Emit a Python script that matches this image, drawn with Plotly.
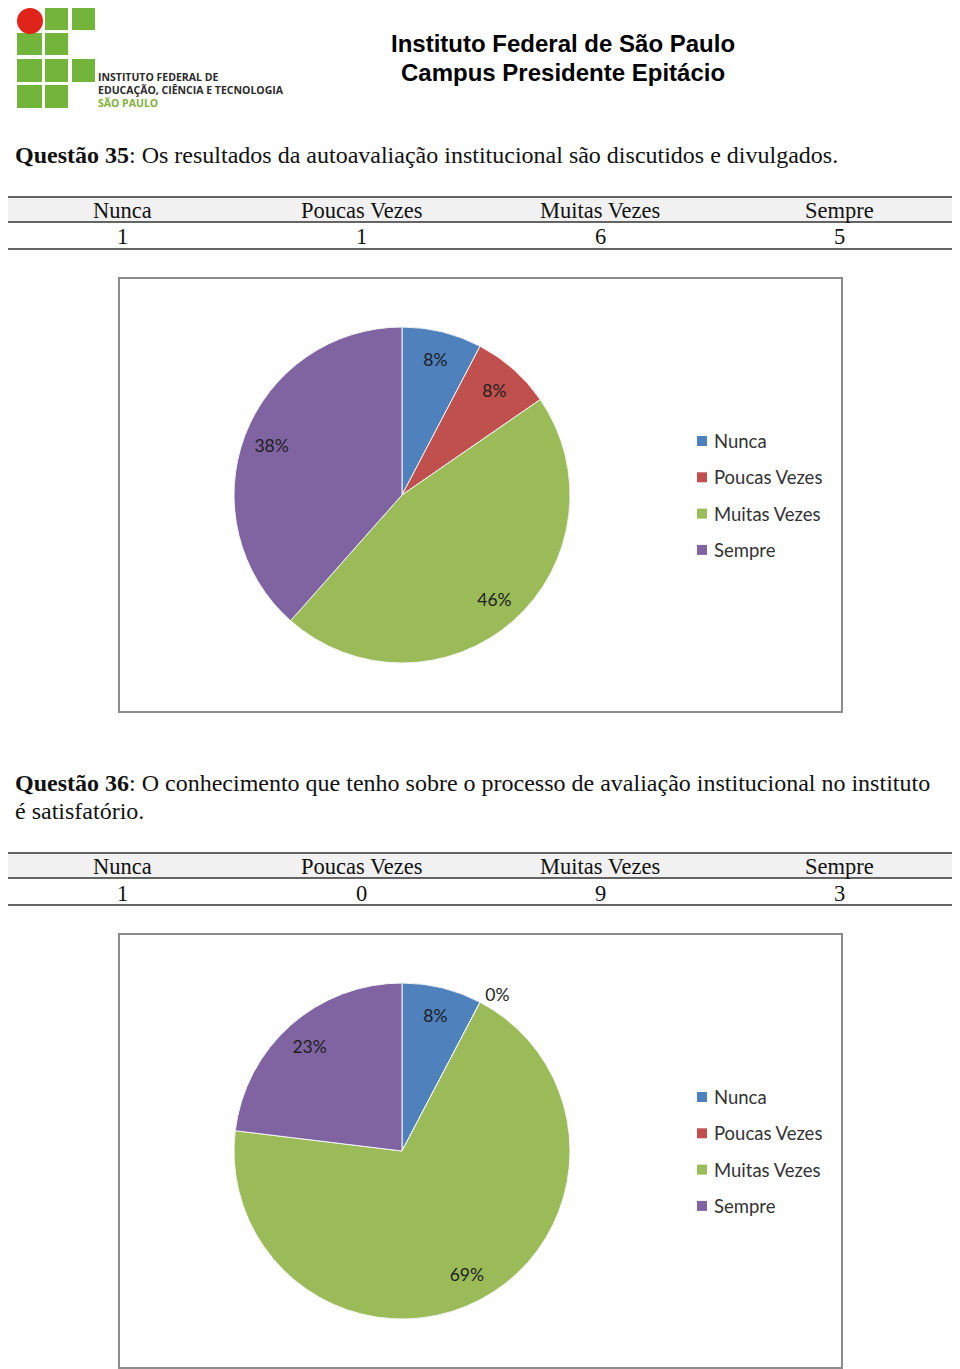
import plotly.graph_objects as go

# page body has an 8px margin, so the figure is drawn 8px smaller and
# reference pixel coordinates are shifted by that margin
OFF = 8
W, H = 960 - OFF, 1369 - OFF

# --- data ---
categories = ["Nunca", "Poucas Vezes", "Muitas Vezes", "Sempre"]
q35_counts = [1, 1, 6, 5]
q36_counts = [1, 0, 9, 3]
q35_title = "Questão 35"
q35_lines = ["Os resultados da autoavaliação institucional são discutidos e divulgados."]
q36_title = "Questão 36"
q36_lines = ["O conhecimento que tenho sobre o processo de avaliação institucional no instituto",
             "é satisfatório."]
header_lines = ["Instituto Federal de São Paulo", "Campus Presidente Epitácio"]
slice_colors = ["#4F81BD", "#C0504D", "#9BBB59", "#8064A2"]

SERIF = "Liberation Serif, Times New Roman, serif"
SANS = "Liberation Sans, Arial, sans-serif"
CHART_FONT = "Lato, Calibri, sans-serif"


def X(px):
    return (px - OFF) / W


def Y(py):
    return 1 - (py - OFF) / H


fig = go.Figure()
shapes = []
annotations = []


def text_at(text, x, y, size, family, color="#111", xanchor="center"):
    annotations.append(dict(text=text, x=X(x), y=Y(y), xref="paper", yref="paper",
                            xanchor=xanchor, yanchor="middle", showarrow=False,
                            font=dict(family=family, size=size, color=color)))


def add_logo():
    green = "#72B53A"
    cells = [(0, 1), (0, 2), (1, 0), (1, 1), (2, 0), (2, 1), (2, 2), (3, 0), (3, 1)]
    cols = [(17, 42), (45, 68), (72, 95)]
    rows = [(8, 30), (33, 55), (59, 82), (85, 108)]
    for r, c in cells:
        x0, x1 = cols[c]
        y0, y1 = rows[r]
        shapes.append(dict(type="rect", xref="paper", yref="paper",
                           x0=X(x0), x1=X(x1), y0=Y(y1), y1=Y(y0),
                           fillcolor=green, line_width=0, layer="above"))
    shapes.append(dict(type="circle", xref="paper", yref="paper",
                       x0=X(17), x1=X(43), y0=Y(34), y1=Y(8),
                       fillcolor="#E0231B", line_width=0, layer="above"))
    for txt, yy, col in [("INSTITUTO FEDERAL DE", 77, "#2b2b2b"),
                         ("EDUCAÇÃO, CIÊNCIA E TECNOLOGIA", 90, "#2b2b2b"),
                         ("SÃO PAULO", 103, "#7FB23A")]:
        text_at(f"<b>{txt}</b>", 96, yy, 10.5, "Open Sans, Arial", col, "left")


def add_question(title, lines, counts, text_y, table_top, box_top):
    for k, line in enumerate(lines):
        txt = f"<b>{title}</b>: {line}" if k == 0 else line
        text_at(txt, 13, text_y + 28 * k, 24, SERIF, "#111", "left")
    # table
    shapes.append(dict(type="rect", xref="paper", yref="paper",
                       x0=X(2), x1=X(958), y0=Y(table_top + 25), y1=Y(table_top),
                       fillcolor="#F1F1F1", line_width=0))
    for ly in (table_top, table_top + 25, table_top + 52):
        shapes.append(dict(type="line", xref="paper", yref="paper",
                           x0=X(2), x1=X(958), y0=Y(ly), y1=Y(ly),
                           line=dict(color="#333", width=1.5)))
    for i, (cat, n) in enumerate(zip(categories, counts)):
        cx = 122 + i * 239
        text_at(cat, cx, table_top + 13, 22.5, SERIF)
        text_at(str(n), cx, table_top + 40, 22.5, SERIF)
    # chart box
    shapes.append(dict(type="rect", xref="paper", yref="paper",
                       x0=X(119), x1=X(842), y0=Y(box_top + 434), y1=Y(box_top),
                       line=dict(color="#8C8C8C", width=2), fillcolor="rgba(0,0,0,0)"))
    cy = box_top + 217
    dom = dict(x=[X(234), X(570)], y=[Y(cy + 168), Y(cy - 168)])
    fig.add_trace(go.Pie(
        labels=categories, values=counts, sort=False, direction="clockwise", rotation=0,
        marker=dict(colors=slice_colors, line=dict(color="#F4F4F4", width=1)),
        textinfo="none", domain=dom, showlegend=False,
        hoverinfo="label+value+percent",
    ))
    # transparent ring on top: puts the percent labels at ~0.83 of the radius
    fig.add_trace(go.Pie(
        labels=categories, values=counts, sort=False, direction="clockwise", rotation=0,
        hole=0.66, marker=dict(colors=["rgba(0,0,0,0)"] * len(counts), line_width=0),
        texttemplate="%{percent:.0%}",
        textposition=["inside" if v > 0 else "outside" for v in counts],
        insidetextorientation="horizontal",
        textfont=dict(family=CHART_FONT, size=17.5, color="#1E1E1E"),
        domain=dom, showlegend=False, hoverinfo="skip",
    ))
    # legend
    for i, (cat, col) in enumerate(zip(categories, slice_colors)):
        ly = cy - 54 + 36.3 * i
        shapes.append(dict(type="rect", xref="paper", yref="paper",
                           x0=X(697), x1=X(707), y0=Y(ly + 5), y1=Y(ly - 5),
                           fillcolor=col, line_width=0))
        text_at(cat, 712, ly, 18.5, CHART_FONT, "#333", "left")


add_logo()
for k, line in enumerate(header_lines):
    text_at(f"<b>{line}</b>", 563, 44 + 28 * k, 24, SANS, "#000")

add_question(q35_title, q35_lines, q35_counts, 155, 197, 278)
add_question(q36_title, q36_lines, q36_counts, 783, 853, 934)

fig.update_layout(
    width=W, height=H, margin=dict(l=0, r=0, t=0, b=0),
    paper_bgcolor="white", plot_bgcolor="white",
    shapes=shapes, annotations=annotations,
)

fig.write_html("out.html")
